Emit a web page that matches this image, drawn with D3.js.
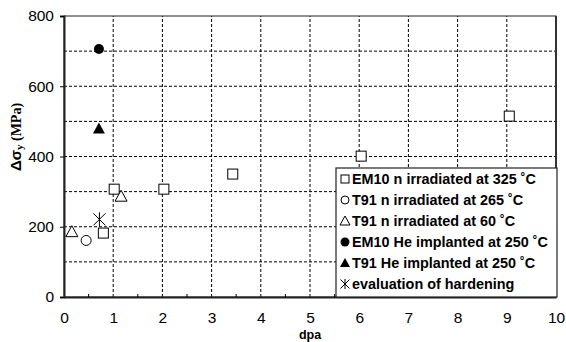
<!DOCTYPE html>
<html><head><meta charset="utf-8">
<script src="https://cdn.jsdelivr.net/npm/d3@7"></script>
<style>body{margin:0;background:#fff}svg{display:block}</style>
</head><body>
<svg id="c" width="566" height="342"></svg>
<script>
const xTicks = [0,1,2,3,4,5,6,7,8,9,10];
const yTicks = [0,200,400,600,800];
const yGrid = [100,200,300,400,500,600,700];
const em10N = [[0.8,182],[1.02,307],[2.03,307],[3.43,350],[6.04,401],[9.05,515]];
const t91N265 = [[0.45,161]];
const t91N60 = [[0.16,186],[1.16,287]];
const em10He = [[0.71,706]];
const t91He = [[0.71,480]];
const evalH = [[0.72,221]];
const legendLabels = ["EM10 n irradiated at 325 ˚C","T91 n irradiated at 265 ˚C","T91 n irradiated at 60 ˚C","EM10 He implanted at 250 ˚C","T91 He implanted at 250 ˚C","evaluation of hardening"];

const svg = d3.select("#c");
const m = {l:64, r:10, t:16, b:45};
const W = 566, H = 342;
const x = d3.scaleLinear().domain([0,10]).range([m.l, W-m.r]);
const y = d3.scaleLinear().domain([0,800]).range([H-m.b, m.t]);

// grid
svg.append("g").selectAll("line").data(xTicks.slice(1,-1)).join("line")
  .attr("x1",d=>x(d)).attr("x2",d=>x(d)).attr("y1",y(0)).attr("y2",y(800))
  .attr("stroke","#000").attr("stroke-width",1).attr("stroke-dasharray","3,2");
svg.append("g").selectAll("line").data(yGrid).join("line")
  .attr("x1",x(0)).attr("x2",x(10)).attr("y1",d=>y(d)).attr("y2",d=>y(d))
  .attr("stroke","#000").attr("stroke-width",1).attr("stroke-dasharray","3,2");

// frame
svg.append("rect").attr("x",x(0)).attr("y",y(800)).attr("width",x(10)-x(0)).attr("height",y(0)-y(800))
  .attr("fill","none").attr("stroke","#222").attr("stroke-width",1);
svg.append("line").attr("x1",x(10)).attr("x2",x(10)).attr("y1",y(800)).attr("y2",y(0)).attr("stroke","#333").attr("stroke-width",2);

// axes
const xAxis = svg.append("g").attr("transform",`translate(0,${y(0)})`)
  .call(d3.axisBottom(x).tickValues(xTicks).tickSize(0).tickPadding(15).tickFormat(d3.format("d")));
xAxis.select(".domain").attr("stroke","#222").attr("stroke-width",2);
xAxis.selectAll("text").attr("font-family","Liberation Sans, Arial, sans-serif").attr("font-size",15.5).attr("fill","#000");
// minor ticks
svg.append("g").selectAll("line").data(d3.range(0.5,10,1)).join("line")
  .attr("x1",d=>x(d)).attr("x2",d=>x(d)).attr("y1",y(0)).attr("y2",y(0)-3).attr("stroke","#000");

const yAxis = svg.append("g").attr("transform",`translate(${x(0)},0)`)
  .call(d3.axisLeft(y).tickValues(yTicks).tickSize(4).tickPadding(6));
yAxis.select(".domain").attr("stroke","#222").attr("stroke-width",2);
yAxis.selectAll("text").attr("font-family","Liberation Sans, Arial, sans-serif").attr("font-size",15.5).attr("fill","#000");

// axis titles
svg.append("text").attr("x",(x(0)+x(10))/2).attr("y",339).attr("text-anchor","middle")
  .attr("font-family","Liberation Sans, Arial, sans-serif").attr("font-weight","bold").attr("font-size",12.5).text("dpa");
const yt = svg.append("text").attr("transform",`translate(21,137) rotate(-90)`).attr("text-anchor","middle")
  .attr("font-weight","bold").attr("font-size",14);
yt.append("tspan").attr("font-family","Liberation Sans, Arial, sans-serif").attr("font-size",15).text("Δσ");
yt.append("tspan").attr("font-family","Liberation Serif, Times New Roman, serif").attr("font-size",11).attr("dy",2).text("y");
yt.append("tspan").attr("font-family","Liberation Serif, Times New Roman, serif").attr("dy",-2).text(" (MPa)");

// marker painters
const sym = {
  square: (g)=> g.append("rect").attr("x",-5).attr("y",-5).attr("width",10).attr("height",10).attr("fill","#fff").attr("stroke","#000"),
  circle: (g)=> g.append("circle").attr("r",5).attr("fill","#fff").attr("stroke","#000"),
  tri: (g)=> g.append("path").attr("d","M0,-6L6,5L-6,5Z").attr("fill","#fff").attr("stroke","#000"),
  fcircle: (g)=> g.append("circle").attr("r",5).attr("fill","#000"),
  ftri: (g)=> g.append("path").attr("d","M0,-6L6,5L-6,5Z").attr("fill","#000"),
  star: (g)=> g.append("path").attr("d","M0,-7V7M-6,-6L6,6M-6,6L6,-6").attr("stroke","#000").attr("fill","none")
};
const series = [[em10N,"square"],[t91N265,"circle"],[t91N60,"tri"],[em10He,"fcircle"],[t91He,"ftri"],[evalH,"star"]];
series.forEach(([data,s])=>{
  svg.append("g").selectAll("g").data(data).join("g")
    .attr("transform",d=>`translate(${x(d[0])},${y(d[1])})`)
    .each(function(){ sym[s](d3.select(this)); });
});

// legend
const lg = svg.append("g");
lg.append("rect").attr("x",336).attr("y",168).attr("width",221).attr("height",129).attr("fill","#fff").attr("stroke","#222").attr("stroke-width",1.2);
const legSyms = {
  square: g=>g.append("rect").attr("x",-4).attr("y",-4).attr("width",8).attr("height",8).attr("fill","#fff").attr("stroke","#000"),
  circle: g=>g.append("circle").attr("r",4).attr("fill","#fff").attr("stroke","#000"),
  tri: g=>g.append("path").attr("d","M0,-5L5,4L-5,4Z").attr("fill","#fff").attr("stroke","#000"),
  fcircle: g=>g.append("circle").attr("r",4.5).attr("fill","#000"),
  ftri: g=>g.append("path").attr("d","M0,-5L5,4L-5,4Z").attr("fill","#000"),
  star: g=>g.append("path").attr("d","M0,-5V5M-4.5,-4.5L4.5,4.5M-4.5,4.5L4.5,-4.5").attr("stroke","#000").attr("fill","none")
};
legendLabels.forEach((lab,i)=>{
  const cy = 179 + i*21;
  const g = lg.append("g").attr("transform",`translate(345,${cy})`);
  legSyms[series[i][1]](g);
  lg.append("text").attr("x",352).attr("y",cy+5).attr("font-family","Liberation Sans, Arial, sans-serif")
    .attr("font-weight","bold").attr("font-size",14.4).text(lab);
});
</script>
</body></html>
